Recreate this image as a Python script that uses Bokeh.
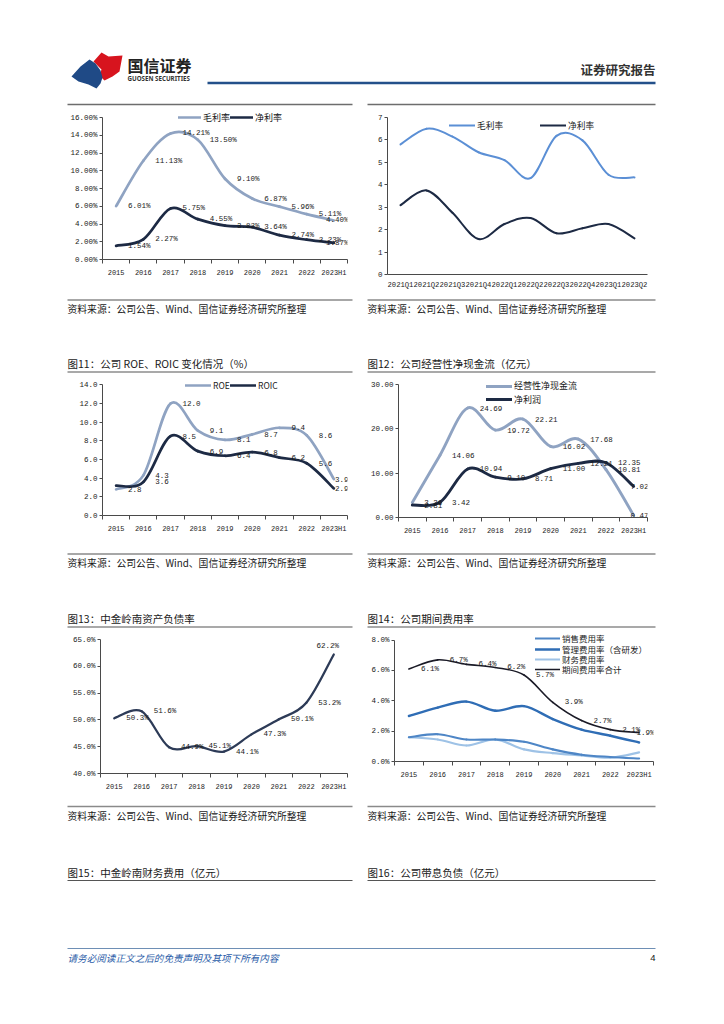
from bokeh.plotting import figure
from bokeh.models import (Range1d, FixedTicker, PrintfTickFormatter, Legend, LegendItem,
                          ColumnDataSource)
from bokeh.layouts import column, row
from bokeh.embed import file_html
from bokeh.resources import INLINE
from bokeh.core.properties import value

# ---------------- data ----------------
years = ["2015", "2016", "2017", "2018", "2019", "2020", "2021", "2022", "2023H1"]
quarters = ["2021Q1", "2021Q2", "2021Q3", "2021Q4", "2022Q1", "2022Q2",
            "2022Q3", "2022Q4", "2023Q1", "2023Q2"]

gross_margin_annual = [6.01, 11.13, 14.21, 13.50, 9.10, 6.87, 5.96, 5.11, 4.40]
net_margin_annual = [1.54, 2.27, 5.75, 4.55, 3.82, 3.64, 2.74, 2.23, 1.87]

gross_margin_q = [5.8, 6.5, 6.15, 5.45, 5.1, 4.3, 6.18, 5.98, 4.45, 4.33]
net_margin_q = [3.09, 3.75, 2.75, 1.58, 2.25, 2.52, 1.84, 2.06, 2.25, 1.61]

roe = [2.8, 4.3, 12.0, 9.1, 8.1, 8.7, 9.4, 8.6, 3.9]
roic = [3.2, 3.6, 8.5, 6.9, 6.4, 6.8, 6.2, 5.6, 2.9]

op_cash_flow = [3.36, 14.06, 24.69, 19.72, 22.21, 16.02, 17.68, 10.81, 0.47]
net_profit = [2.81, 3.42, 10.94, 9.10, 8.71, 11.00, 12.21, 12.35, 7.02]

debt_ratio = [50.3, 51.6, 44.9, 45.1, 44.1, 47.3, 50.1, 53.2, 62.2]

selling_rate = [1.6, 1.8, 1.45, 1.45, 1.3, 0.8, 0.45, 0.3, 0.2]
admin_rate = [3.0, 3.55, 3.95, 3.35, 3.65, 2.8, 2.1, 1.7, 1.25]
finance_rate = [1.6, 1.45, 1.05, 1.45, 0.8, 0.55, 0.4, 0.25, 0.6]
total_rate = [6.1, 6.7, 6.4, 6.2, 5.7, 3.9, 2.7, 2.1, 1.9]

SOURCE = "资料来源：公司公告、Wind、国信证券经济研究所整理"

# ---------------- styles ----------------
CJK = value("Noto Sans CJK SC")
MONO = value("Liberation Mono")
AXIS = "#4a4a4a"
TXT = "#1a1a1a"
GRAYBLUE = "#8FA3C2"
NAVY = "#1D2A44"
BLUE2 = "#5B8FD5"
DEBT = "#2D3B57"
SELL = "#4E86C6"
ADMIN = "#2F6DB5"
FIN = "#9EC2E6"
TOTAL = "#1B1B27"
LEG_H = 14


def strip(y0, y1):
    p = figure(width=708, height=y1 - y0, x_range=Range1d(0, 708), y_range=Range1d(y1, y0),
               output_backend="svg", toolbar_location=None, min_border=0,
               x_axis_location=None, y_axis_location=None)
    p.grid.visible = False
    p.outline_line_color = None
    return p


def make_chart(fx0, fw, fy0, fh, frame, xr, yr):
    l, r, t, b = frame
    p = figure(width=fw, height=fh, x_range=xr, y_range=yr, output_backend="svg",
               toolbar_location=None,
               min_border_left=l - fx0, min_border_right=fx0 + fw - r,
               min_border_top=t - fy0, min_border_bottom=fy0 + fh - b)
    p.grid.visible = False
    p.outline_line_color = None
    return p


def style_y(p, ticks, fmt, size="7.5px"):
    ax = p.yaxis[0]
    ax.ticker = FixedTicker(ticks=ticks)
    ax.formatter = PrintfTickFormatter(format=fmt)
    ax.bounds = (ticks[0], ticks[-1])
    ax.major_tick_out = 3
    ax.major_tick_in = 0
    ax.minor_tick_out = 0
    ax.axis_line_color = AXIS
    ax.major_tick_line_color = AXIS
    ax.major_label_text_font = "Liberation Mono"
    ax.major_label_text_font_size = size
    ax.major_label_text_color = TXT
    ax.major_label_standoff = 2


def style_x(p, labels, boundary_ticks=True, size="7px", standoff=5):
    n = len(labels)
    ax = p.xaxis[0]
    minor = [i - 0.5 for i in range(n + 1)] if boundary_ticks else []
    ax.ticker = FixedTicker(ticks=list(range(n)), minor_ticks=minor)
    ax.major_label_overrides = {i: lab for i, lab in enumerate(labels)}
    ax.major_tick_out = 0
    ax.major_tick_in = 0
    ax.minor_tick_in = 0
    ax.minor_tick_out = 4 if boundary_ticks else 0
    ax.minor_tick_line_color = AXIS
    ax.axis_line_color = AXIS
    ax.major_label_text_font = "Liberation Mono"
    ax.major_label_text_font_size = size
    ax.major_label_text_color = TXT
    ax.major_label_standoff = standoff


def smooth(p, vals, color, width):
    n = len(vals)
    xs = list(range(n))
    d = dict(x0=[], y0=[], x1=[], y1=[], cx0=[], cy0=[], cx1=[], cy1=[])
    for i in range(n - 1):
        ip = i - 1 if i > 0 else i
        inn = i + 2 if i + 2 < n else i + 1
        d["x0"].append(xs[i]); d["y0"].append(vals[i])
        d["x1"].append(xs[i + 1]); d["y1"].append(vals[i + 1])
        d["cx0"].append(xs[i] + (xs[i + 1] - xs[ip]) / 6.0)
        d["cy0"].append(vals[i] + (vals[i + 1] - vals[ip]) / 6.0)
        d["cx1"].append(xs[i + 1] - (xs[inn] - xs[i]) / 6.0)
        d["cy1"].append(vals[i + 1] - (vals[inn] - vals[i]) / 6.0)
    return p.bezier(x0="x0", y0="y0", x1="x1", y1="y1", cx0="cx0", cy0="cy0",
                    cx1="cx1", cy1="cy1", source=ColumnDataSource(d),
                    line_color=color, line_width=width, line_cap="round")


def add_labels(p, vals, fmt, skip=(), size="7.5px", last="clamp"):
    n = len(vals)
    idx = [i for i in range(n - 1) if i not in skip]
    p.text(x=idx, y=[vals[i] for i in idx], text=[fmt % vals[i] for i in idx],
           text_align="left", text_baseline="middle", x_offset=12,
           text_font=MONO, text_font_size=size, text_color=TXT)
    if last == "clamp":
        p.text(x=[n - 0.5], y=[vals[-1]], text=[fmt % vals[-1]], text_align="right",
               text_baseline="middle", x_offset=1,
               text_font=MONO, text_font_size=size, text_color=TXT)
    else:
        p.text(x=[n - 1], y=[vals[-1]], text=[fmt % vals[-1]], text_align="center",
               text_baseline="middle", x_offset=-6, y_offset=-9,
               text_font=MONO, text_font_size=size, text_color=TXT)


def legend(p, items, vx, center_y, frame_b, glyph_w, label_w, size, standoff=2):
    """One legend row; center_y is the page y of the row centre."""
    vy = frame_b - (center_y + LEG_H / 2.0)
    lg = Legend(items=[LegendItem(label=lab, renderers=[r]) for lab, r in items],
                location=(vx, vy), orientation="horizontal", padding=0, margin=0, spacing=0,
                glyph_width=glyph_w, glyph_height=LEG_H, label_height=LEG_H,
                label_width=label_w, label_standoff=standoff,
                label_text_font="Noto Sans CJK SC", label_text_font_size=size,
                label_text_color=TXT, background_fill_alpha=0, border_line_alpha=0)
    p.add_layout(lg)


def text(p, x, y, s, size, font=CJK, align="left", color=TXT, style="normal"):
    p.text(x=[x], y=[y], text=[s], text_font=font, text_font_size=size, text_align=align,
           text_baseline="middle", text_color=color, text_font_style=style)


LEFT_COL = (67, 352)
RIGHT_COL = (367, 655)

# ---------------- strip A: header ----------------
sA = strip(0, 108)
sA.patches(xs=[[93, 101, 108, 122, 119, 112, 104, 99, 101, 96],
               [71, 80, 89, 95, 100, 102, 100, 96, 88, 78]],
           ys=[[61, 52, 56, 55, 71, 76, 80, 75, 69, 64],
               [76, 66, 59, 63, 70, 77, 83, 88, 84, 81]],
           fill_color=["#D7141E", "#1F4A86"], line_color=None)
text(sA, 127, 64.5, "国信证券", "16px", color="#222222", style="bold")
text(sA, 127, 78, "GUOSEN SECURITIES", "6.2px", font=value("Noto Sans"), color="#333333", style="bold")
text(sA, 655, 69, "证券研究报告", "12.5px", align="right", color="#333333", style="bold")
sA.segment(x0=[207], y0=[82.5], x1=[655], y1=[82.5], line_color="#23508A", line_width=2.5)
sA.segment(x0=[LEFT_COL[0], RIGHT_COL[0]], y0=[104, 104], x1=[LEFT_COL[1], RIGHT_COL[1]],
           y1=[104, 104], line_color="#6d6d6d", line_width=1.3)

# ---------------- row 1 ----------------
c1 = make_chart(0, 360, 108, 184, (102, 347, 110, 259), Range1d(-0.5, 8.5), Range1d(0, 16.79))
style_y(c1, list(range(0, 17, 2)), "%.2f%%")
style_x(c1, years)
r_g = smooth(c1, gross_margin_annual, GRAYBLUE, 2.7)
r_n = smooth(c1, net_margin_annual, NAVY, 2.7)
add_labels(c1, gross_margin_annual, "%.2f%%")
add_labels(c1, net_margin_annual, "%.2f%%")
legend(c1, [("毛利率", r_g), ("净利率", r_n)], 76, 117, 259, 23, 27, "9px")

c2 = make_chart(360, 348, 108, 184, (387, 647, 117, 274), Range1d(-0.5, 9.5), Range1d(0, 7))
style_y(c2, list(range(0, 8)), "%d")
style_x(c2, quarters, boundary_ticks=False, size="7.2px", standoff=6)
r_gq = smooth(c2, gross_margin_q, BLUE2, 2.0)
r_nq = smooth(c2, net_margin_q, NAVY, 2.0)
legend(c2, [("毛利率", r_gq), ("净利率", r_nq)], 62, 125, 274, 26, 63, "8.7px")

# ---------------- strip B ----------------
sB = strip(292, 378)
sB.segment(x0=[LEFT_COL[0], RIGHT_COL[0]], y0=[299.5, 299.5], x1=[LEFT_COL[1], RIGHT_COL[1]],
           y1=[299.5, 299.5], line_color="#8a8a8a", line_width=1.4)
text(sB, LEFT_COL[0], 308.5, SOURCE, "9.8px")
text(sB, RIGHT_COL[0], 308.5, SOURCE, "9.8px")
text(sB, LEFT_COL[0], 363, "图11：公司 ROE、ROIC 变化情况（%）", "10.5px")
text(sB, RIGHT_COL[0], 363, "图12：公司经营性净现金流（亿元）", "10.5px")
sB.segment(x0=[LEFT_COL[0], RIGHT_COL[0]], y0=[371.5, 371.5], x1=[LEFT_COL[1], RIGHT_COL[1]],
           y1=[371.5, 371.5], line_color="#555555", line_width=1.2)

# ---------------- row 2 ----------------
c11 = make_chart(0, 360, 378, 167, (102, 347, 378, 515), Range1d(-0.5, 8.5), Range1d(0, 14.68))
style_y(c11, list(range(0, 15, 2)), "%.1f")
style_x(c11, years)
r_roe = smooth(c11, roe, GRAYBLUE, 2.7)
r_roic = smooth(c11, roic, NAVY, 2.7)
add_labels(c11, roe, "%.1f")
add_labels(c11, roic, "%.1f", skip=(0,))
legend(c11, [("ROE", r_roe), ("ROIC", r_roic)], 83, 385, 515, 26, 17, "8.5px")

c12 = make_chart(360, 348, 378, 167, (398, 647, 378, 517), Range1d(-0.5, 8.5), Range1d(0, 31.35))
style_y(c12, [0, 10, 20, 30], "%.2f")
style_x(c12, years)
r_ocf = smooth(c12, op_cash_flow, GRAYBLUE, 2.9)
r_np = smooth(c12, net_profit, NAVY, 2.9)
add_labels(c12, op_cash_flow, "%.2f")
add_labels(c12, net_profit, "%.2f")
legend(c12, [("经营性净现金流", r_ocf)], 88, 385.7, 517, 26, 20, "9px")
legend(c12, [("净利润", r_np)], 88, 399, 517, 26, 20, "9px")

# ---------------- strip C ----------------
sC = strip(545, 630)
sC.segment(x0=[LEFT_COL[0], RIGHT_COL[0]], y0=[553.5, 553.5], x1=[LEFT_COL[1], RIGHT_COL[1]],
           y1=[553.5, 553.5], line_color="#8a8a8a", line_width=1.4)
text(sC, LEFT_COL[0], 562.5, SOURCE, "9.8px")
text(sC, RIGHT_COL[0], 562.5, SOURCE, "9.8px")
text(sC, LEFT_COL[0], 618, "图13：中金岭南资产负债率", "10.5px")
text(sC, RIGHT_COL[0], 618, "图14：公司期间费用率", "10.5px")
sC.segment(x0=[LEFT_COL[0], RIGHT_COL[0]], y0=[626.5, 626.5], x1=[LEFT_COL[1], RIGHT_COL[1]],
           y1=[626.5, 626.5], line_color="#555555", line_width=1.2)

# ---------------- row 3 ----------------
c13 = make_chart(0, 360, 630, 165, (100, 347, 639, 773), Range1d(-0.5, 8.5), Range1d(40, 65))
style_y(c13, [40, 45, 50, 55, 60, 65], "%.1f%%")
style_x(c13, years)
smooth(c13, debt_ratio, DEBT, 2.3)
add_labels(c13, debt_ratio, "%.1f%%", last="above")

c14 = make_chart(360, 348, 630, 165, (394, 653, 631, 761), Range1d(-0.5, 8.5), Range1d(0, 8.57))
style_y(c14, [0, 2, 4, 6, 8], "%.1f%%")
style_x(c14, years)
r_fin = smooth(c14, finance_rate, FIN, 2.1)
r_sell = smooth(c14, selling_rate, SELL, 2.1)
r_adm = smooth(c14, admin_rate, ADMIN, 2.4)
r_tot = smooth(c14, total_rate, TOTAL, 1.6)
add_labels(c14, total_rate, "%.1f%%")
for lab, rr, cy in [("销售费用率", r_sell, 638.3), ("管理费用率（含研发）", r_adm, 648.6),
                    ("财务费用率", r_fin, 659.0), ("期间费用率合计", r_tot, 669.3)]:
    legend(c14, [(lab, rr)], 141, cy, 761, 25, 20, "8.5px")

# ---------------- strip D ----------------
sD = strip(795, 1008)
sD.segment(x0=[LEFT_COL[0], RIGHT_COL[0]], y0=[806, 806], x1=[LEFT_COL[1], RIGHT_COL[1]],
           y1=[806, 806], line_color="#8a8a8a", line_width=1.4)
text(sD, LEFT_COL[0], 815.5, SOURCE, "9.8px")
text(sD, RIGHT_COL[0], 815.5, SOURCE, "9.8px")
text(sD, LEFT_COL[0], 871.5, "图15：中金岭南财务费用（亿元）", "10.5px")
text(sD, RIGHT_COL[0], 871.5, "图16：公司带息负债（亿元）", "10.5px")
sD.segment(x0=[LEFT_COL[0], RIGHT_COL[0]], y0=[880, 880], x1=[LEFT_COL[1], RIGHT_COL[1]],
           y1=[880, 880], line_color="#555555", line_width=1.2)
sD.segment(x0=[67], y0=[948], x1=[655], y1=[948], line_color="#6E8FB5", line_width=1)
text(sD, 67, 957, "请务必阅读正文之后的免责声明及其项下所有内容", "9.6px", color="#2A5CA8", style="italic")
text(sD, 655, 957, "4", "9.5px", font=value("Liberation Sans"), align="right")

page = column(sA,
              row(column(c1), column(c2)),
              sB,
              row(column(c11), column(c12)),
              sC,
              row(column(c13), column(c14)),
              sD)

with open("out.html", "w") as f:
    f.write(file_html(page, INLINE))
